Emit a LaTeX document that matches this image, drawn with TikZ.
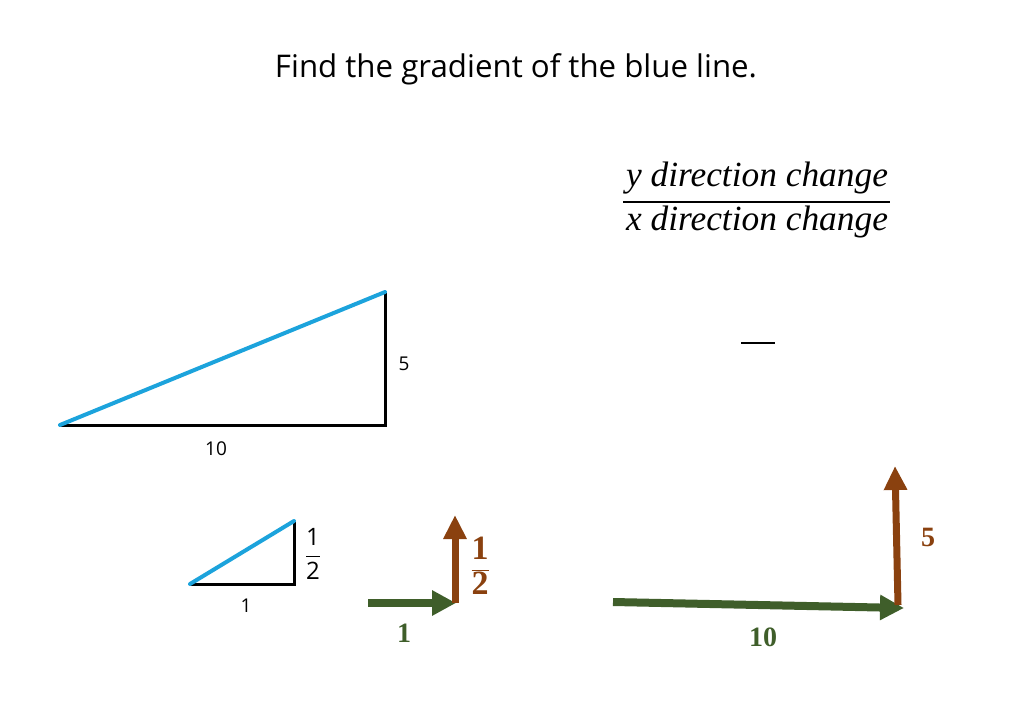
\documentclass[tikz,border=0pt]{standalone}
\usepackage{fontspec}
\setmainfont{Open Sans}
\newfontfamily\serifit{Liberation Serif}
\usetikzlibrary{arrows.meta}
\definecolor{lineblue}{HTML}{1CA3DC}
\definecolor{arrgreen}{HTML}{3F5E2A}
\definecolor{arrbrown}{HTML}{8A410F}
\tikzset{
  edge/.style={line width=3pt,black},
  slope/.style={line width=4pt,lineblue,line cap=round},
  lbl/.style={font=\fontsize{19}{22}\selectfont,inner sep=0pt},
  numlbl/.style={font=\serifit\bfseries\fontsize{28}{30}\selectfont,inner sep=0pt},
  garrow/.style={arrgreen,line width=8pt,-{Triangle[length=24pt,width=24pt]}},
  barrow/.style={arrbrown,line width=7pt,-{Triangle[length=24pt,width=22pt]}},
  fractxt/.style={font=\serifit\itshape\fontsize{31}{33}\selectfont,inner sep=0pt}
}
\begin{document}
\begin{tikzpicture}[x=1pt,y=-1pt]
\useasboundingbox (0,0) rectangle (1024,709);
% title
\node[inner sep=0pt] (title) at (516,69) {\resizebox{482pt}{!}{\fontsize{28}{32}\selectfont Find the gradient of the blue line.}};
% fraction
\node[fractxt] (num) at (757,178) {\resizebox{262pt}{!}{y direction change}};
\node[fractxt] (den) at (757,222) {\resizebox{262pt}{!}{x direction change}};
\coordinate (fl) at (623,202);
\coordinate (fr) at (890,202);
\draw[line width=2pt] (fl) -- (fr);
\coordinate (dl) at (741,343);
\coordinate (dr) at (775,343);
\draw[line width=2pt] (dl) -- (dr);
% big triangle
\coordinate (A) at (60,425);
\coordinate (B) at (385,425);
\coordinate (C) at (385,292);
\draw[edge] (A) -- (B) -- (C);
\draw[slope] (A) -- (C);
\node[lbl] (l5) at (404,364) {5};
\node[lbl] (l10) at (216,449) {10};
% small triangle
\coordinate (a) at (190,584);
\coordinate (b) at (294,584);
\coordinate (c) at (294,521);
\draw[edge] (a) -- (b) -- (c);
\draw[slope] (a) -- (c);
\node[lbl,font=\fontsize{24}{26}\selectfont] (lhalf) at (313,554) {$\displaystyle\frac{\mbox{1}}{\mbox{2}}$};
\node[lbl] (l1) at (246,606) {1};
% small arrows
\coordinate (g1s) at (368,603);
\coordinate (g1e) at (456,603);
\draw[garrow] (g1s) -- (g1e);
\coordinate (b1s) at (455,603);
\coordinate (b1e) at (455,515);
\draw[barrow] (b1s) -- (b1e);
\node[numlbl,arrbrown,font=\serifit\bfseries\fontsize{34}{36}\selectfont] (bhalf) at (480,566) {$\displaystyle\frac{\mbox{1}}{\mbox{2}}$};
\node[numlbl,arrgreen] (g1) at (404,633) {1};
% big arrows
\coordinate (g2s) at (613,602);
\coordinate (g2e) at (904,608);
\draw[garrow] (g2s) -- (g2e);
\coordinate (b2s) at (898,605);
\coordinate (b2e) at (895,466);
\draw[barrow] (b2s) -- (b2e);
\node[numlbl,arrbrown] (b5) at (928,537) {5};
\node[numlbl,arrgreen] (g10) at (763,637) {10};
\end{tikzpicture}
\end{document}
